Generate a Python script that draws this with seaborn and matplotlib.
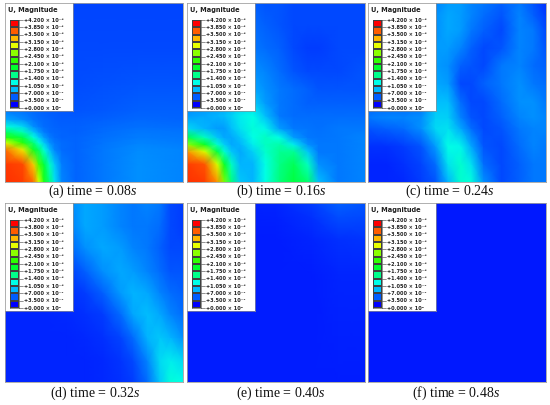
import numpy as np
import matplotlib.pyplot as plt
import seaborn as sns
from matplotlib.colors import LinearSegmentedColormap, ListedColormap

sns.set_theme(style="white")
plt.rcParams['mathtext.fontset'] = 'custom'
plt.rcParams['mathtext.rm'] = 'Liberation Serif'
plt.rcParams['mathtext.it'] = 'Liberation Serif:italic'

# Abaqus style spectrum, bottom (0) to top (4.2e-6)
spectrum = ['#0000ff', '#005dff', '#00b9ff', '#00ffe8', '#00ff8b', '#00ff2e',
            '#2eff00', '#8bff00', '#e8ff00', '#ffb900', '#ff5d00', '#ff0000']

labels_std = ['+4.200 × 10⁻⁶', '+3.850 × 10⁻⁶', '+3.500 × 10⁻⁶', '+3.150 × 10⁻⁶',
              '+2.800 × 10⁻⁶', '+2.450 × 10⁻⁶', '+2.100 × 10⁻⁶', '+1.750 × 10⁻⁶',
              '+1.400 × 10⁻⁶', '+1.050 × 10⁻⁶', '+7.000 × 10⁻⁷', '+3.500 × 10⁻⁷',
              '+0.000 × 10⁰']
labels_c = labels_std[:9] + ['+1.050 × 10⁻⁷'] + labels_std[10:]
labels_d = labels_std[:1] + ['+3.800 × 10⁻⁶'] + labels_std[2:]

tags = ['(a)', '(b)', '(c)', '(d)', '(e)', '(f)']
times = ['0.08', '0.16', '0.24', '0.32', '0.40', '0.48']

# displacement magnitude (x 1e-6), rows bottom -> top
xs_a = [0, 0.1, 0.16, 0.19, 0.22, 0.25, 0.28, 0.32, 0.4, 0.55, 0.75, 1.0]
ys_a = [0, 0.1, 0.18, 0.22, 0.25, 0.28, 0.31, 0.35, 0.4, 0.55, 0.75, 1.0]
u_a = [
    [4.0, 3.95, 3.75, 3.0, 2.1, 1.6, 1.0, 0.55, 0.42, 0.5, 0.6, 0.55],
    [3.97, 3.9, 3.3, 2.4, 1.85, 1.3, 0.85, 0.52, 0.42, 0.5, 0.6, 0.55],
    [3.75, 3.15, 2.05, 1.7, 1.2, 0.8, 0.55, 0.45, 0.42, 0.5, 0.58, 0.55],
    [3.0, 2.2, 1.6, 1.2, 0.85, 0.6, 0.5, 0.45, 0.42, 0.48, 0.55, 0.52],
    [2.2, 1.8, 1.2, 0.9, 0.65, 0.52, 0.45, 0.42, 0.42, 0.47, 0.52, 0.5],
    [1.7, 1.35, 0.85, 0.65, 0.52, 0.45, 0.43, 0.42, 0.4, 0.45, 0.5, 0.48],
    [1.2, 0.95, 0.6, 0.52, 0.45, 0.43, 0.42, 0.4, 0.4, 0.43, 0.47, 0.45],
    [0.7, 0.58, 0.48, 0.45, 0.43, 0.42, 0.4, 0.39, 0.38, 0.4, 0.43, 0.42],
    [0.5, 0.47, 0.44, 0.42, 0.4, 0.39, 0.38, 0.37, 0.36, 0.37, 0.4, 0.4],
    [0.38, 0.37, 0.36, 0.35, 0.34, 0.34, 0.33, 0.33, 0.32, 0.33, 0.35, 0.35],
    [0.33, 0.32, 0.31, 0.3, 0.3, 0.3, 0.3, 0.3, 0.3, 0.3, 0.31, 0.31],
    [0.3, 0.3, 0.3, 0.3, 0.3, 0.3, 0.3, 0.3, 0.29, 0.28, 0.28, 0.28],
]

xs_b = [0, 0.1, 0.17, 0.21, 0.25, 0.3, 0.37, 0.44, 0.52, 0.6, 0.68, 0.74, 0.85, 1.0]
ys_b = [0, 0.1, 0.17, 0.21, 0.25, 0.3, 0.37, 0.44, 0.52, 0.62, 0.75, 0.88, 1.0]
u_b = [
    [4.0, 3.95, 3.6, 2.6, 1.6, 0.85, 0.75, 1.15, 1.6, 1.85, 1.65, 0.8, 0.5, 0.55],
    [3.95, 3.85, 3.0, 2.0, 1.3, 0.75, 0.75, 1.15, 1.55, 1.75, 1.3, 0.6, 0.5, 0.55],
    [3.6, 3.0, 1.85, 1.25, 0.85, 0.7, 0.9, 1.25, 1.5, 1.5, 0.85, 0.5, 0.5, 0.55],
    [2.7, 2.0, 1.25, 0.9, 0.7, 0.75, 1.05, 1.3, 1.4, 1.05, 0.6, 0.5, 0.5, 0.55],
    [1.8, 1.3, 0.85, 0.7, 0.7, 0.85, 1.15, 1.3, 1.15, 0.65, 0.5, 0.48, 0.5, 0.55],
    [0.95, 0.75, 0.65, 0.65, 0.8, 1.0, 1.2, 1.1, 0.65, 0.5, 0.48, 0.47, 0.5, 0.5],
    [0.65, 0.7, 0.75, 0.8, 0.9, 1.05, 1.15, 0.8, 0.5, 0.45, 0.45, 0.45, 0.45, 0.45],
    [0.55, 0.6, 0.65, 0.7, 0.75, 0.85, 0.9, 0.65, 0.5, 0.45, 0.4, 0.4, 0.4, 0.4],
    [0.45, 0.5, 0.55, 0.6, 0.65, 0.7, 0.7, 0.6, 0.5, 0.45, 0.4, 0.35, 0.35, 0.35],
    [0.4, 0.45, 0.5, 0.5, 0.55, 0.55, 0.6, 0.55, 0.45, 0.35, 0.3, 0.3, 0.3, 0.35],
    [0.35, 0.4, 0.45, 0.45, 0.5, 0.5, 0.5, 0.45, 0.4, 0.3, 0.25, 0.25, 0.3, 0.3],
    [0.35, 0.35, 0.4, 0.4, 0.45, 0.45, 0.45, 0.4, 0.35, 0.3, 0.3, 0.3, 0.3, 0.3],
    [0.35, 0.35, 0.4, 0.4, 0.4, 0.4, 0.4, 0.35, 0.35, 0.3, 0.3, 0.3, 0.3, 0.3],
]

xs_c = [0, 0.1, 0.2, 0.3, 0.38, 0.45, 0.52, 0.58, 0.65, 0.75, 0.85, 0.93, 1.0]
ys_c = [0, 0.1, 0.2, 0.3, 0.36, 0.45, 0.55, 0.65, 0.75, 0.85, 0.93, 1.0]
u_c = [
    [0.15, 0.15, 0.18, 0.25, 0.35, 0.75, 1.25, 1.2, 0.6, 0.3, 0.4, 0.5, 0.5],
    [0.15, 0.15, 0.2, 0.28, 0.45, 1.0, 1.25, 1.0, 0.45, 0.3, 0.4, 0.5, 0.5],
    [0.2, 0.2, 0.25, 0.35, 0.65, 1.15, 1.1, 0.7, 0.35, 0.3, 0.45, 0.55, 0.5],
    [0.35, 0.4, 0.45, 0.6, 0.95, 1.0, 0.7, 0.45, 0.3, 0.35, 0.5, 0.55, 0.55],
    [0.5, 0.55, 0.55, 0.6, 0.9, 0.9, 0.55, 0.35, 0.3, 0.4, 0.55, 0.6, 0.55],
    [0.4, 0.4, 0.4, 0.45, 0.8, 0.8, 0.45, 0.3, 0.3, 0.45, 0.6, 0.6, 0.5],
    [0.3, 0.3, 0.3, 0.4, 0.7, 0.65, 0.3, 0.3, 0.4, 0.5, 0.6, 0.5, 0.45],
    [0.3, 0.3, 0.3, 0.4, 0.65, 0.6, 0.4, 0.35, 0.3, 0.5, 0.55, 0.45, 0.4],
    [0.3, 0.3, 0.3, 0.4, 0.65, 0.65, 0.55, 0.4, 0.3, 0.35, 0.55, 0.5, 0.35],
    [0.3, 0.3, 0.3, 0.4, 0.6, 0.7, 0.65, 0.5, 0.4, 0.3, 0.55, 0.5, 0.3],
    [0.3, 0.3, 0.3, 0.4, 0.6, 0.7, 0.65, 0.55, 0.45, 0.35, 0.55, 0.4, 0.25],
    [0.3, 0.3, 0.3, 0.4, 0.55, 0.65, 0.65, 0.55, 0.5, 0.4, 0.5, 0.35, 0.2],
]

xs_d = [0, 0.2, 0.35, 0.45, 0.55, 0.65, 0.72, 0.8, 0.87, 0.93, 1.0]
ys_d = [0, 0.12, 0.25, 0.38, 0.5, 0.62, 0.75, 0.87, 1.0]
u_d = [
    [0.15, 0.15, 0.15, 0.16, 0.18, 0.2, 0.25, 0.45, 0.85, 1.2, 1.15],
    [0.15, 0.15, 0.15, 0.16, 0.18, 0.22, 0.3, 0.55, 0.95, 1.05, 0.95],
    [0.15, 0.15, 0.16, 0.18, 0.2, 0.28, 0.45, 0.75, 0.85, 0.75, 0.6],
    [0.15, 0.15, 0.17, 0.2, 0.25, 0.45, 0.7, 0.8, 0.7, 0.55, 0.45],
    [0.16, 0.16, 0.2, 0.25, 0.4, 0.65, 0.75, 0.7, 0.55, 0.45, 0.4],
    [0.2, 0.2, 0.25, 0.4, 0.6, 0.7, 0.65, 0.55, 0.45, 0.35, 0.35],
    [0.2, 0.25, 0.4, 0.6, 0.7, 0.65, 0.55, 0.5, 0.4, 0.3, 0.3],
    [0.2, 0.3, 0.5, 0.7, 0.65, 0.55, 0.5, 0.5, 0.45, 0.3, 0.25],
    [0.2, 0.35, 0.55, 0.7, 0.65, 0.55, 0.5, 0.55, 0.5, 0.3, 0.25],
]

xs_e = [0, 0.5, 0.7, 0.85, 1.0]
ys_e = [0, 0.6, 0.8, 0.92, 1.0]
u_e = [
    [0.12, 0.12, 0.12, 0.12, 0.12],
    [0.12, 0.12, 0.13, 0.15, 0.15],
    [0.12, 0.13, 0.15, 0.2, 0.22],
    [0.12, 0.14, 0.2, 0.32, 0.3],
    [0.12, 0.15, 0.25, 0.4, 0.35],
]

xs_f = [0, 0.5, 1.0]
ys_f = [0, 0.5, 1.0]
u_f = [
    [0.1, 0.11, 0.1],
    [0.1, 0.1, 0.11],
    [0.1, 0.1, 0.1],
]

fields = [(xs_a, ys_a, u_a), (xs_b, ys_b, u_b), (xs_c, ys_c, u_c),
          (xs_d, ys_d, u_d), (xs_e, ys_e, u_e), (xs_f, ys_f, u_f)]
legend_labels = [labels_std, labels_std, labels_c, labels_d, labels_std, labels_c]

cmap = LinearSegmentedColormap.from_list('abaqus', spectrum)

W, H = 550, 405
fig = plt.figure(figsize=(5.5, 4.05), dpi=100)
fig.patch.set_facecolor('white')


def px_axes(x0, y0, w, h):
    return fig.add_axes([x0 / W, 1 - (y0 + h) / H, w / W, h / H])


col_x = [5, 187, 368]
row_y = [3, 203]
panel_w, panel_h = 178, 179
label_x = [93, 281, 450, 95, 281, 456]
label_y = [191, 393]

for k in range(6):
    x0 = col_x[k % 3]
    y0 = row_y[k // 3]
    xs, ys, u = fields[k]
    ax = px_axes(x0, y0, panel_w, panel_h)
    X, Y = np.meshgrid(xs, ys)
    ax.pcolormesh(X, Y, np.array(u), cmap=cmap, vmin=0, vmax=4.2, shading='gouraud')
    ax.set_xlim(0, 1)
    ax.set_ylim(0, 1)
    ax.set_xticks([])
    ax.set_yticks([])
    for s in ax.spines.values():
        s.set_color('#a0a0a0')
        s.set_linewidth(0.6)

    # legend box
    leg = px_axes(x0, y0, 68, 108)
    leg.set_facecolor('white')
    leg.set_xlim(0, 68)
    leg.set_ylim(108, 0)
    leg.set_xticks([])
    leg.set_yticks([])
    for s in leg.spines.values():
        s.set_color('#909090')
        s.set_linewidth(0.5)
    leg.text(3, 7, 'U, Magnitude', fontsize=4.8, fontweight='bold', va='center',
             ha='left', color='#202020')
    step = 88 / 12
    for i, lab in enumerate(legend_labels[k]):
        yy = 17 + i * step
        leg.plot([14, 18], [yy, yy], color='#404040', lw=0.4)
        leg.text(19, yy, lab, fontsize=3.6, fontweight='bold', va='center',
                 ha='left', color='#202020')

    sw = px_axes(x0 + 5, y0 + 17, 9, 88)
    sns.heatmap(np.arange(12)[::-1].reshape(12, 1), ax=sw,
                cmap=ListedColormap(spectrum), vmin=-0.5, vmax=11.5,
                cbar=False, xticklabels=False, yticklabels=False,
                linewidths=0.3, linecolor='#404040')
    for s in sw.spines.values():
        s.set_visible(True)
        s.set_color('#404040')
        s.set_linewidth(0.4)

    fig.text(label_x[k] / W, 1 - label_y[k // 3] / H,
             tags[k] + ' time = ' + times[k] + '$s$',
             ha='center', va='center', fontsize=10,
             family='Liberation Serif', color='#111111')

fig.savefig('out.png', dpi=100, facecolor='white')
